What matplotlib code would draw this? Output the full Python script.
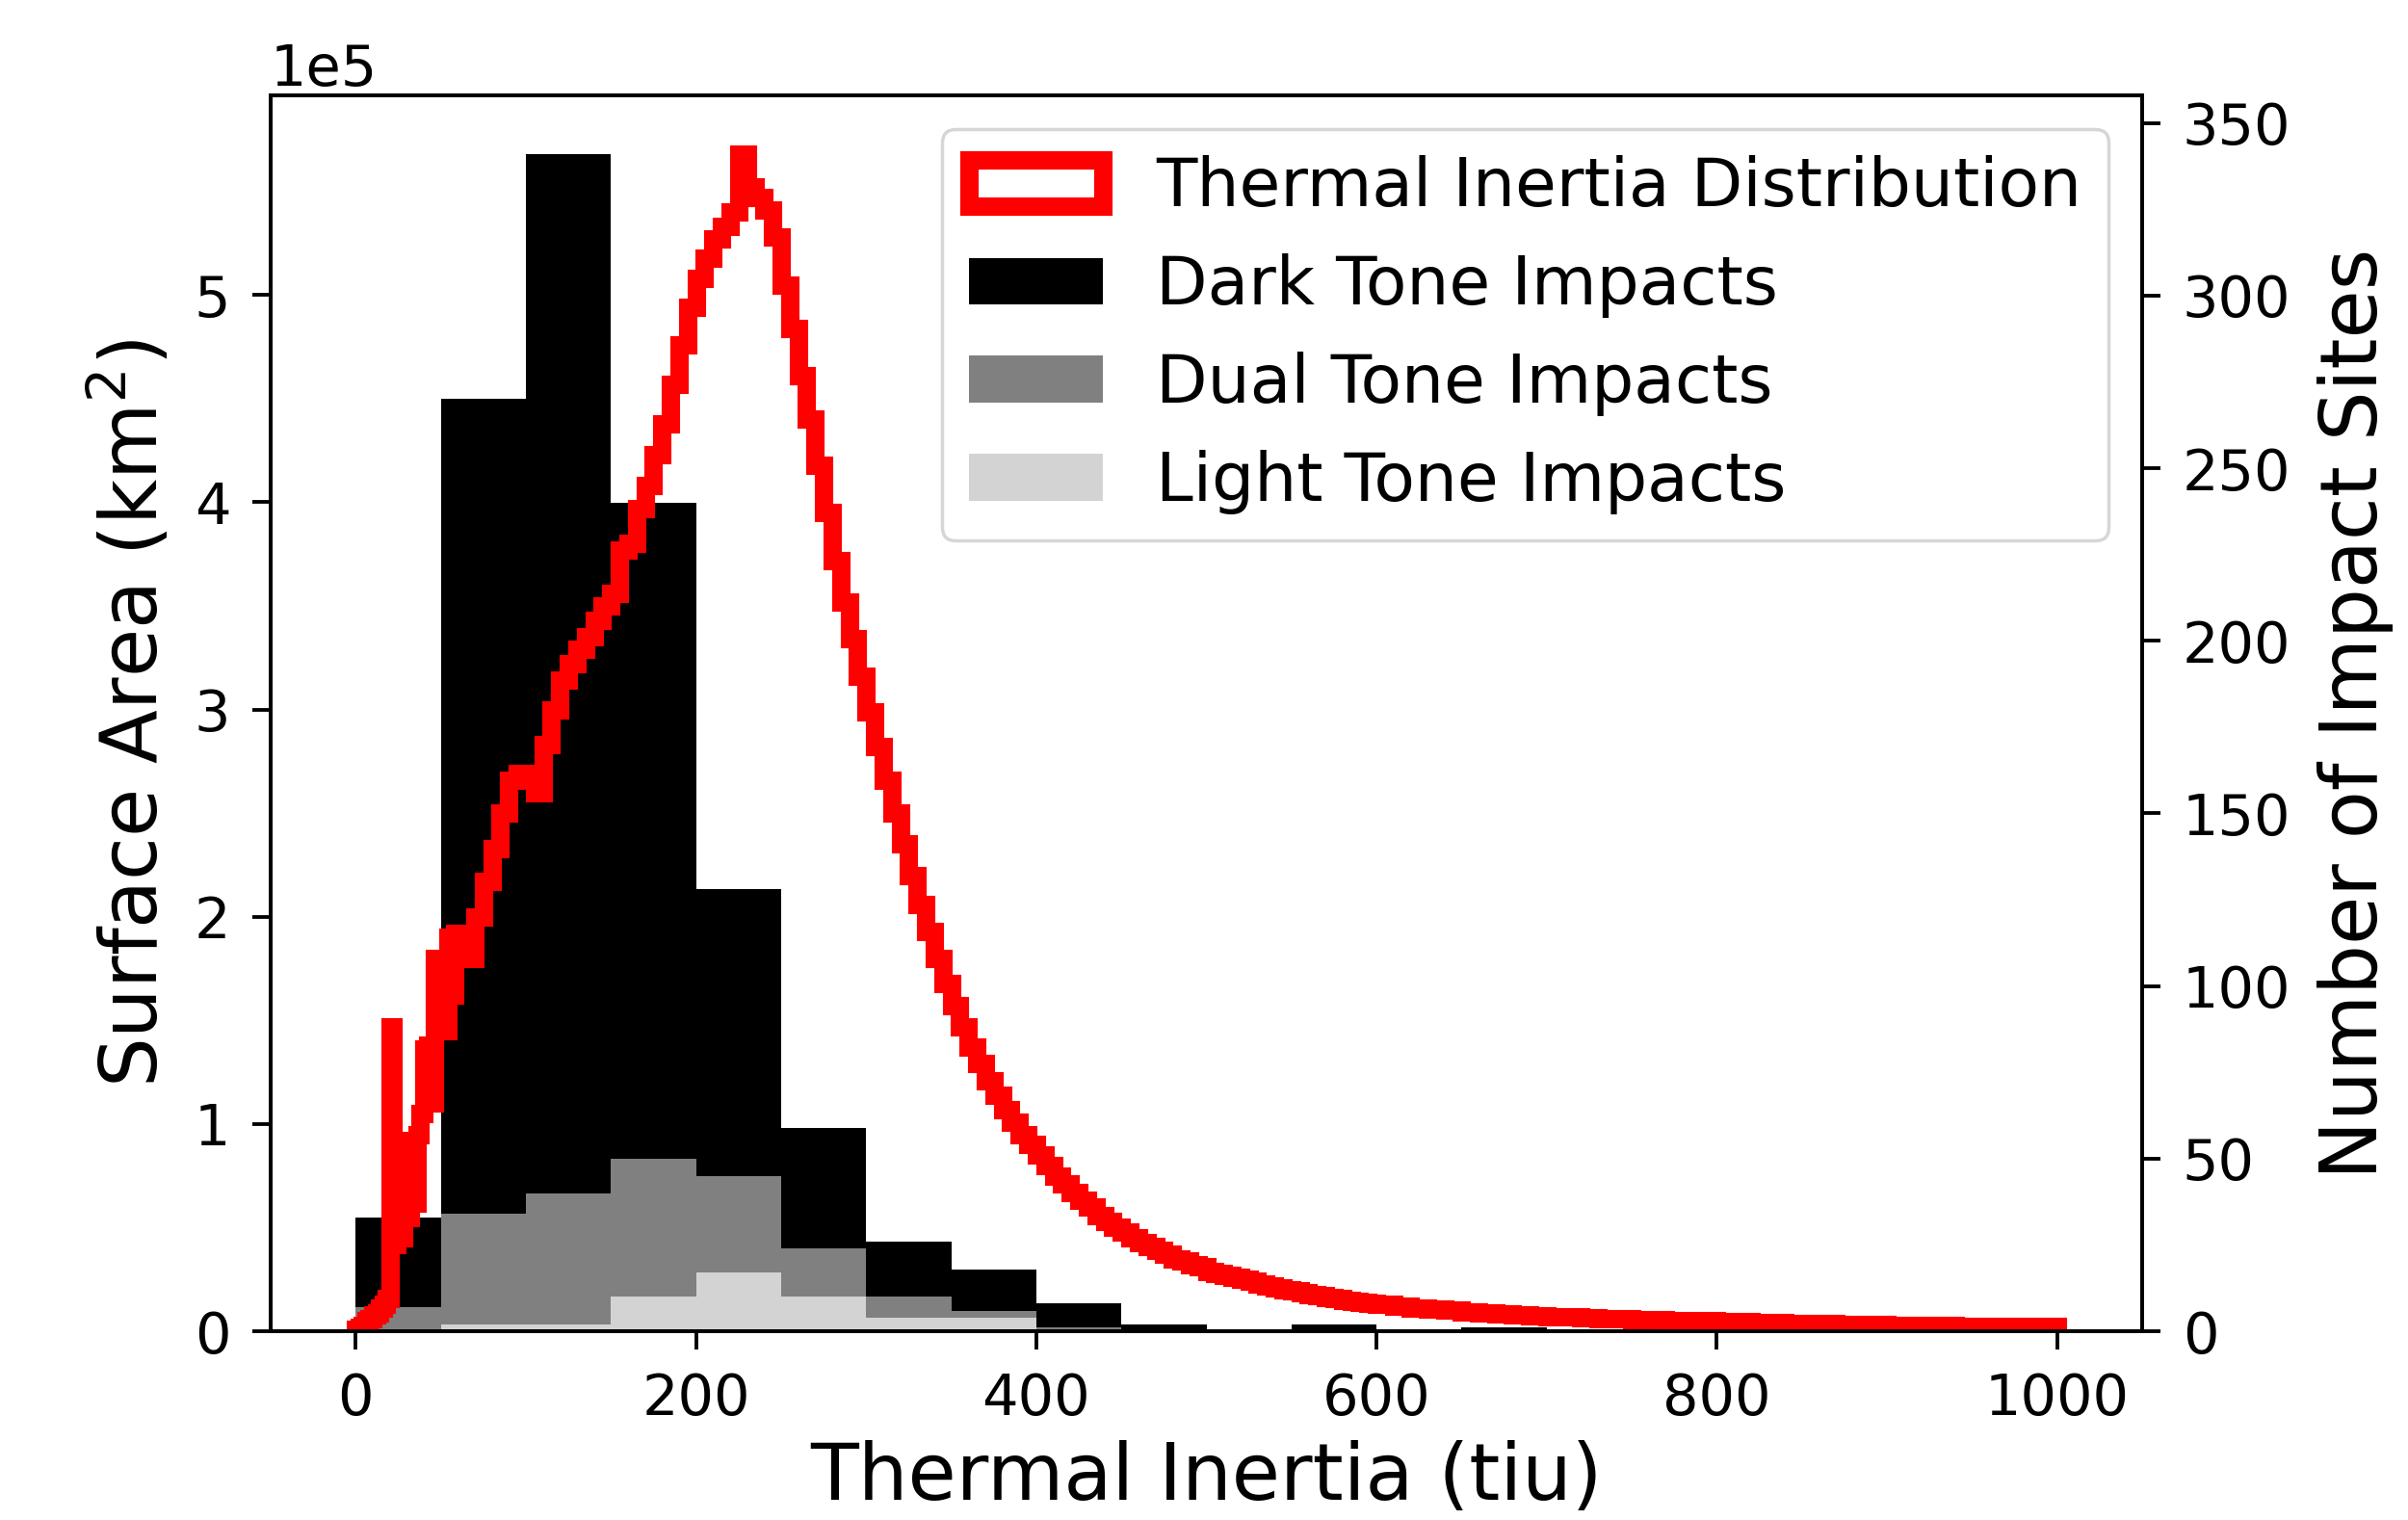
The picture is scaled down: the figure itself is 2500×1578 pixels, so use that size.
"""
Thermal inertia distribution vs. impact sites
"""
import numpy as np
import matplotlib
matplotlib.use('Agg')
import matplotlib.pyplot as plt

###############################################################################
# Surface area per thermal-inertia bin (units of 1e5 km^2).
# Fine bins (2 tiu) for 0-60, 5 tiu for 60-600, 10 tiu for 600-1000.
area_fine = [0.01, 0.02, 0.03, 0.05, 0.06, 0.08, 0.09, 0.11, 0.13, 0.16,
             1.47, 0.42, 0.90, 0.45, 0.90, 0.55, 0.92, 0.62, 0.95, 1.05,
             1.36, 1.38, 1.10, 1.80, 1.80, 1.78, 1.45, 1.90, 1.62, 1.92]
area_mid = [1.88, 1.80, 2.00, 2.17, 2.33, 2.50, 2.66, 2.69, 2.67, 2.60,
            2.83, 3.00, 3.14, 3.22, 3.29, 3.35, 3.43, 3.50, 3.56, 3.77,
            3.80, 3.97, 4.08, 4.23, 4.38, 4.57, 4.76, 4.94, 5.08, 5.18,
            5.27, 5.33, 5.40, 5.68, 5.52, 5.47, 5.41, 5.28, 5.05, 4.84,
            4.61, 4.40, 4.18, 3.95, 3.72, 3.52, 3.34, 3.16, 2.99, 2.82,
            2.66, 2.50, 2.35, 2.20, 2.06, 1.93, 1.80, 1.68, 1.57, 1.47,
            1.37, 1.29, 1.21, 1.14, 1.07, 1.01, 0.95, 0.90, 0.85, 0.80,
            0.75, 0.71, 0.67, 0.63, 0.60, 0.56, 0.53, 0.50, 0.48, 0.45,
            0.43, 0.41, 0.39, 0.37, 0.35, 0.34, 0.32, 0.31, 0.29, 0.28,
            0.27, 0.26, 0.25, 0.24, 0.23, 0.22, 0.21, 0.20, 0.195, 0.185,
            0.178, 0.170, 0.163, 0.156, 0.150, 0.144, 0.138, 0.133]
area_tail = [0.128, 0.120, 0.113, 0.106, 0.100, 0.094, 0.089, 0.084, 0.079, 0.075,
             0.071, 0.068, 0.065, 0.062, 0.060, 0.058, 0.055, 0.053, 0.051, 0.049,
             0.047, 0.045, 0.043, 0.041, 0.039, 0.038, 0.036, 0.034, 0.032, 0.031,
             0.029, 0.028, 0.027, 0.026, 0.025, 0.024, 0.023, 0.023, 0.022, 0.022]

ti_edges = np.concatenate([np.arange(0, 60, 2), np.arange(60, 600, 5),
                           np.arange(600, 1001, 10)])
ti_area = np.array(area_fine + area_mid + area_tail) * 1e5

###############################################################################
# Impact site counts per 50 tiu bin.
impact_edges = np.arange(0, 1001, 50)
light_tone = [0, 2, 2, 10, 17, 10, 4, 4, 0, 0, 0, 0, 0, 0, 0, 0, 0, 0, 0, 0]
dual_tone = [7, 32, 38, 40, 28, 14, 6, 2, 1, 0, 0, 0, 0, 0, 0, 0, 0, 0, 0, 0]
dark_tone = [26, 236, 301, 190, 83, 35, 16, 12, 7, 2, 0, 2, 0, 1, 0, 0, 0, 0, 0, 0]

###############################################################################
fig = plt.figure(figsize=(10, 6.312), dpi=250)
ax1 = fig.add_axes([0.1124, 0.1242, 0.7772, 0.8131])
ax2 = ax1.twinx()

centers = (impact_edges[:-1] + impact_edges[1:]) / 2
ax2.hist([centers, centers, centers], bins=impact_edges,
         weights=[light_tone, dual_tone, dark_tone], stacked=True,
         color=['lightgray', 'gray', 'black'],
         label=['Light Tone Impacts', 'Dual Tone Impacts', 'Dark Tone Impacts'])

ax1.hist(ti_edges[:-1], bins=ti_edges, weights=ti_area, histtype='step',
         color='red', lw=5.5, label='Thermal Inertia Distribution')

# red curve above the bars
ax1.set_zorder(ax2.get_zorder() + 1)
ax1.patch.set_visible(False)

ax1.set_xlim(-50, 1050)
ax1.set_ylim(0, ti_area.max() * 1.05)
totals = np.array(light_tone) + np.array(dual_tone) + np.array(dark_tone)
ax2.set_ylim(0, totals.max() * 1.05)
ax1.ticklabel_format(axis='y', style='sci', scilimits=(0, 0))

ax1.set_xlabel('Thermal Inertia (tiu)', fontsize=23.5, labelpad=4)
ax1.set_ylabel('Surface Area (km$^2$)', fontsize=23.5, labelpad=6)
ax2.set_ylabel('Number of Impact Sites', fontsize=23.5, labelpad=8)

for ax in (ax1, ax2):
    ax.tick_params(labelsize=17, length=5.5, width=1.1, pad=6.5)
    for sp in ax.spines.values():
        sp.set_linewidth(1.1)
ax1.yaxis.get_offset_text().set_fontsize(17)

h1, l1 = ax1.get_legend_handles_labels()
h2, l2 = ax2.get_legend_handles_labels()
ax1.legend(h1 + h2[::-1], l1 + l2[::-1], loc='upper right', fontsize=20,
           labelspacing=0.5)

fig.savefig('out.png', dpi=250)
